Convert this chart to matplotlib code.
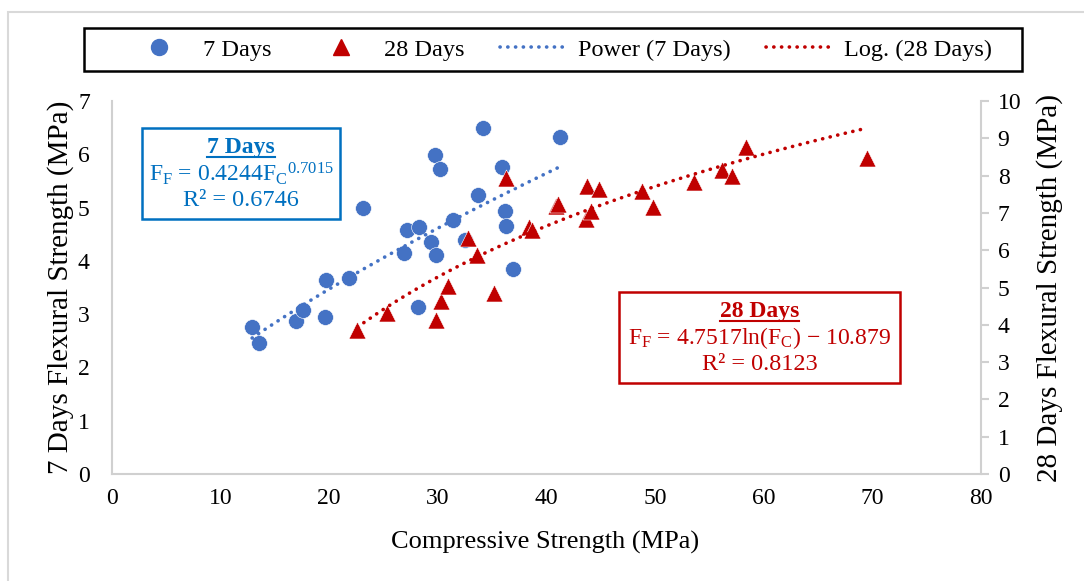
import matplotlib
matplotlib.use("Agg")
import matplotlib.pyplot as plt
import numpy as np
from matplotlib.lines import Line2D
from matplotlib.patches import Rectangle

plt.rcParams["font.family"] = ["Liberation Serif", "DejaVu Serif"]
plt.rcParams["mathtext.fontset"] = "custom"
plt.rcParams["mathtext.rm"] = "Liberation Serif"
plt.rcParams["mathtext.it"] = "Liberation Serif:italic"

BLUE = "#4472C4"
BLUE_TEXT = "#0070C0"
RED = "#C00000"
GRID_GRAY = "#D0D0D0"

# 7-day specimens: compressive vs flexural strength (MPa)
fc_7 = [12.9, 13.5, 16.9, 17.6, 19.6, 19.7, 21.8, 23.1, 26.9, 27.2, 28.3, 28.2,
        29.4, 29.7, 29.8, 30.2, 31.4, 32.5, 33.7, 34.2, 35.9, 36.2, 36.3, 36.9, 41.2]
ff_7 = [2.76, 2.46, 2.87, 3.08, 2.95, 3.64, 3.68, 4.99, 4.15, 4.58, 4.63, 3.13,
        4.35, 5.98, 4.11, 5.72, 4.77, 4.39, 5.23, 6.49, 5.76, 4.93, 4.65, 3.85, 6.32]

# 28-day specimens
fc_28 = [22.6, 25.3, 29.8, 30.3, 30.9, 32.8, 33.6, 35.2, 36.3, 38.4, 38.7, 40.9,
         41.1, 43.6, 43.7, 44.1, 44.8, 48.8, 49.8, 53.6, 56.2, 57.1, 58.4, 69.5]
ff_28 = [3.86, 4.32, 4.13, 4.65, 5.05, 6.32, 5.87, 4.86, 7.93, 6.63, 6.54, 7.18,
         7.23, 6.83, 7.73, 7.06, 7.64, 7.60, 7.15, 7.82, 8.15, 8.00, 8.76, 8.46]

# trendline coefficients
POW_A, POW_B = 0.4244, 0.7015        # Ff = a * Fc^b
LOG_A, LOG_B = 4.7517, -10.879       # Ff = a * ln(Fc) + b

x_ticks = [0, 10, 20, 30, 40, 50, 60, 70, 80]
left_ticks = [0, 1, 2, 3, 4, 5, 6, 7]
right_ticks = [0, 1, 2, 3, 4, 5, 6, 7, 8, 9, 10]

W, H = 1084, 581
fig = plt.figure(figsize=(W / 100, H / 100), dpi=100)


def fx(px):
    return px / W


def fy(py):
    return 1 - py / H


def frame(x0, y0, x1, y1, color, lw, fill=False, z=1):
    fig.patches.append(Rectangle((fx(x0), fy(y1)), fx(x1) - fx(x0), fy(y0) - fy(y1),
                                 transform=fig.transFigure, fill=fill,
                                 facecolor="white", edgecolor=color,
                                 linewidth=lw, zorder=z))


# outer chart border
frame(8, 12, 1300, 800, "#D9D9D9", 1.5)

ax = fig.add_axes([fx(112), fy(474), fx(981) - fx(112), fy(101) - fy(474)])
ax2 = ax.twinx()

ax.set_xlim(0, 80)
ax.set_ylim(0, 7)
ax2.set_ylim(0, 10)
ax.set_xticks(x_ticks)
ax.set_yticks(left_ticks)
ax2.set_yticks(right_ticks)

for a in (ax, ax2):
    a.spines["top"].set_visible(False)
    for side in ("left", "bottom", "right"):
        a.spines[side].set_color(GRID_GRAY)
        a.spines[side].set_linewidth(1.5)
ax.spines["right"].set_visible(False)
ax2.spines["left"].set_visible(False)
ax2.spines["bottom"].set_visible(False)

ax.tick_params(axis="x", length=0, labelsize=17, pad=10)
ax.tick_params(axis="y", length=0, labelsize=17, pad=16)
ax2.tick_params(axis="y", length=6, width=1.5, color=GRID_GRAY, labelsize=17, pad=6)

ax.set_xlabel("Compressive Strength (MPa)", fontsize=19)
ax.set_ylabel("7 Days Flexural Strength (MPa)", fontsize=21)
ax2.set_ylabel("28 Days Flexural Strength (MPa)", fontsize=21)
ax.xaxis.set_label_coords(0.498, -0.152)
ax.yaxis.set_label_coords(-0.044, 0.5)
ax2.yaxis.set_label_coords(1.063, 0.5)

ax.scatter(fc_7, ff_7, s=130, color=BLUE, edgecolors="white", linewidths=0.4, zorder=3)
ax2.scatter(fc_28, ff_28, s=150, marker="^", color=RED, edgecolors="white",
            linewidths=0.4, zorder=3)

dots = dict(linestyle=(0, (0.05, 2.1)), dash_capstyle="round", linewidth=2.6)
xp = np.linspace(min(fc_7), max(fc_7), 100)
ax.plot(xp, POW_A * xp ** POW_B, color=BLUE, zorder=4, **dots)
xl = np.linspace(min(fc_28), max(fc_28), 100)
ax2.plot(xl, LOG_A * np.log(xl) + LOG_B, color=RED, zorder=4, **dots)

# legend across the top, boxed separately
frame(84, 28, 1022, 71, "black", 1.8)
handles = [
    Line2D([], [], marker="o", linestyle="none", color=BLUE, markersize=11.5),
    Line2D([], [], marker="^", linestyle="none", color=RED, markersize=12),
    Line2D([], [], color=BLUE, **dots),
    Line2D([], [], color=RED, **dots),
]
labels = ["7 Days", "28 Days", "Power (7 Days)", "Log. (28 Days)"]
fig.legend(handles, labels, ncol=4, mode="expand", loc="center",
           bbox_to_anchor=(fx(125), fy(71), fx(992) - fx(125), fy(28) - fy(71)),
           frameon=False, fontsize=17.5, handlelength=2.8,
           handletextpad=0.4, borderaxespad=0, borderpad=0)


def eq_box(x0, y0, x1, y1, color, title, eq, r2):
    frame(x0, y0, x1, y1, color, 1.8, fill=True, z=5)
    cx = fx((x0 + x1) / 2)
    t = fig.text(cx, fy(y0 + 20), title, color=color, fontsize=17,
                 fontweight="bold", ha="center", va="center", zorder=6)
    fig.text(cx, fy(y0 + 46), eq, color=color, fontsize=17,
             ha="center", va="center", zorder=6)
    fig.text(cx, fy(y0 + 72), r2, color=color, fontsize=17.5,
             ha="center", va="center", zorder=6)
    return t


t7 = eq_box(142, 128, 340, 219, BLUE_TEXT, "7 Days",
            r"F$_\mathregular{F}$ = 0.4244F$_\mathregular{C}$${}^\mathregular{0.7015}$",
            "R² = 0.6746")
t28 = eq_box(619, 292, 900, 383, RED, "28 Days",
             r"F$_\mathregular{F}$ = 4.7517ln(F$_\mathregular{C}$) − 10.879",
             "R² = 0.8123")

# underline the box titles
fig.canvas.draw()
renderer = fig.canvas.get_renderer()
for t in (t7, t28):
    bb = t.get_window_extent(renderer).transformed(fig.transFigure.inverted())
    fig.add_artist(Line2D([bb.x0, bb.x1], [bb.y0 + 0.002, bb.y0 + 0.002],
                          transform=fig.transFigure, color=t.get_color(),
                          linewidth=1.5, zorder=6))

fig.savefig("out.png", dpi=100)
